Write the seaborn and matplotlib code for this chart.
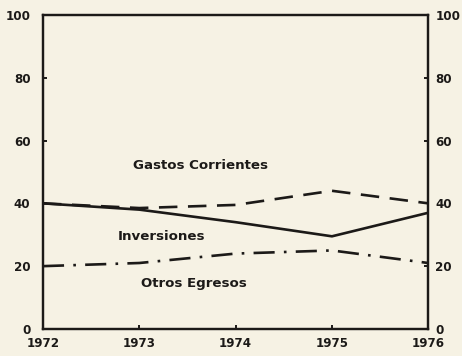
import matplotlib
matplotlib.use("Agg")
import matplotlib.pyplot as plt
import numpy as np
import pandas as pd
import seaborn as sns

years = [1972, 1973, 1974, 1975, 1976]
solid_vals = [40, 38, 34, 29.5, 37]
dashed_vals = [40, 38.5, 39.5, 44, 40]
dashdot_vals = [20, 21, 24, 25, 21]
y_ticks = [0, 20, 40, 60, 80, 100]
labels = ["Gastos Corrientes", "Inversiones", "Otros Egresos"]

paper = "#f6f2e4"
ink = "#1c1a18"

sns.set_style("ticks")
plt.rcParams["font.family"] = ["DejaVu Sans"]

fig = plt.figure(figsize=(4.62, 3.56), dpi=100, facecolor=paper)
ax = fig.add_axes([0.093, 0.076, 0.834, 0.882], facecolor=paper)

df = pd.DataFrame({"year": years, "solid": solid_vals,
                   "dashed": dashed_vals, "dashdot": dashdot_vals})

lw = 1.9
sns.lineplot(data=df, x="year", y="dashed", ax=ax, color=ink, lw=lw,
             linestyle=(0, (7, 4)))
sns.lineplot(data=df, x="year", y="dashdot", ax=ax, color=ink, lw=lw,
             linestyle=(0, (8, 3.5, 1, 3.5)))
sns.lineplot(data=df, x="year", y="solid", ax=ax, color=ink, lw=lw)

ax.set_xlim(1972, 1976)
ax.set_ylim(0, 100)
ax.set_xticks(years)
ax.set_yticks(y_ticks)
ax.set_xlabel("")
ax.set_ylabel("")

fs = 8.6
for s in ax.spines.values():
    s.set_visible(True)
    s.set_color(ink)
    s.set_linewidth(1.6)

ax.tick_params(axis="both", direction="in", length=3, width=1.4, color=ink,
               labelsize=fs, labelcolor=ink)
ax.tick_params(axis="x", pad=6)
ax.tick_params(axis="y", pad=9)
for t in ax.get_xticklabels() + ax.get_yticklabels():
    t.set_fontweight("bold")

ax2 = ax.twinx()
ax2.set_ylim(0, 100)
ax2.set_yticks(y_ticks)
ax2.tick_params(axis="y", direction="in", length=3, width=1.4, color=ink,
                labelsize=fs, labelcolor=ink, pad=5)
for t in ax2.get_yticklabels():
    t.set_fontweight("bold")
for s in ax2.spines.values():
    s.set_color(ink)
    s.set_linewidth(1.6)

lfs = 9.6
ax.text(1973.64, 52, labels[0], ha="center", va="center", fontsize=lfs,
        fontweight="bold", color=ink)
ax.text(1973.23, 29.5, labels[1], ha="center", va="center", fontsize=lfs,
        fontweight="bold", color=ink)
ax.text(1973.57, 14.5, labels[2], ha="center", va="center", fontsize=lfs,
        fontweight="bold", color=ink)

fig.savefig("out.png", dpi=100, facecolor=paper)
